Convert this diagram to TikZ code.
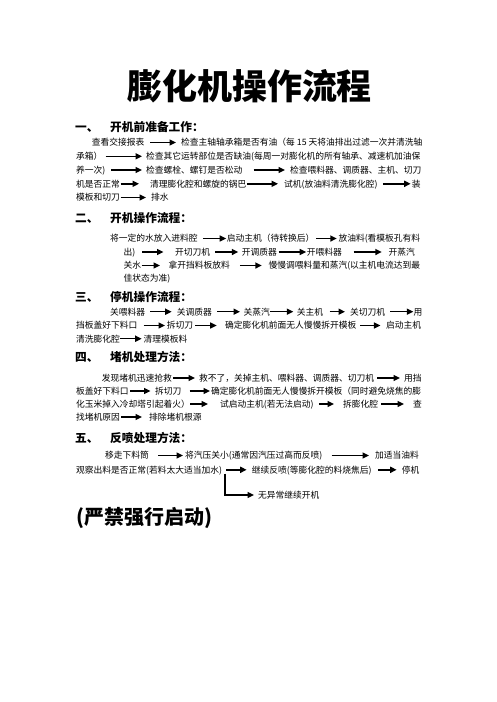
\documentclass[tikz,border=0pt]{standalone}
\usepackage{fontspec}
\usetikzlibrary{arrows.meta}
\newfontfamily\cjk{Noto Sans CJK SC}
\newcommand\fBody{\cjk\fontsize{8.75pt}{10pt}\selectfont}
\newcommand\fHead{\cjk\bfseries\fontsize{11.7pt}{14pt}\selectfont}
\newcommand\fTitle{\cjk\bfseries\fontsize{35pt}{40pt}\selectfont}
\newcommand\fBig{\cjk\bfseries\fontsize{20pt}{24pt}\selectfont}
\newcommand\arw[4]{\draw[arr] ([xshift=#3pt]#1.east) -- ([xshift=-#4pt]#2.west);}
\tikzset{
  txt/.style={anchor=west, inner sep=0pt, font=\fBody, text height=7.7pt, text depth=1.05pt},
  hd/.style={anchor=west, inner sep=0pt, font=\fHead, text height=10.3pt, text depth=1.4pt},
  arr/.style={line width=1.5pt, -{Triangle[length=6.5pt,width=6pt]}},
}
\begin{document}
\begin{tikzpicture}[x=1pt,y=-1pt]
\useasboundingbox[fill=white] (0,0) rectangle (496,702);
% title
\node[inner sep=0pt, font=\fTitle] (title) at (249.5,86) {膨化机操作流程};
% ---------- section 1
\node[hd] (h1n) at (75,127) {一、};
\node[hd] (h1) at (110,127) {开机前准备工作：};
\node[txt] (a1) at (91.7,142.5) {查看交接报表};
\node[txt] (a2) at (181,142.5) {检查主轴轴承箱是否有油（每 15 天将油排出过滤一次并清洗轴};
\arw{a1}{a2}{5.5}{5}
\node[txt] (b1) at (76,156.3) {承箱）};
\node[txt] (b2) at (146,156.3) {检查其它运转部位是否缺油(每周一对膨化机的所有轴承、减速机加油保};
\arw{b1}{b2}{3}{4}
\node[txt] (c1) at (76,170) {养一次)};
\node[txt] (c2) at (146,170) {检查螺栓、螺钉是否松动};
\node[txt] (c3) at (290,170) {检查喂料器、调质器、主机、切刀};
\arw{c1}{c2}{5.5}{4}
\arw{c2}{c3}{11}{5}
\node[txt] (d1) at (76,183.8) {机是否正常};
\node[txt] (d2) at (150,183.8) {清理膨化腔和螺旋的锅巴};
\node[txt] (d3) at (284,183.8) {试机(放油料清洗膨化腔)};
\node[txt] (d4) at (411.7,183.8) {装};
\arw{d1}{d2}{0.5}{11}
\arw{d2}{d3}{0.5}{6}
\arw{d3}{d4}{5}{1}
\node[txt] (e1) at (76,197.5) {模板和切刀};
\node[txt] (e2) at (151,197.5) {排水};
\arw{e1}{e2}{0.5}{5}
% ---------- section 2
\node[hd] (h2n) at (75,218.5) {二、};
\node[hd] (h2) at (110,218.5) {开机操作流程：};
\node[txt] (f1) at (110,238.5) {将一定的水放入进料腔};
\node[txt] (f2) at (226.7,238.5) {启动主机（待转换后）};
\node[txt] (f3) at (338.3,238.5) {放油料(看模板孔有料};
\arw{f1}{f2}{5}{0.5}
\arw{f2}{f3}{1.5}{1.5}
\node[txt] (g1) at (123.3,252) {出)};
\node[txt] (g2) at (175,252) {开切刀机};
\node[txt] (g3) at (241.7,252) {开调质器};
\node[txt] (g4) at (306.7,252) {开喂料器};
\node[txt] (g5) at (388.3,252) {开蒸汽};
\arw{g1}{g2}{7}{11.5}
\arw{g2}{g3}{5}{3.4}
\arw{g3}{g4}{1.6}{0.5}
\arw{g4}{g5}{11.5}{6.5}
\node[txt] (k1) at (123.3,265.5) {关水};
\node[txt] (k2) at (168.3,265.5) {拿开挡料板放料};
\node[txt] (k3) at (268.3,265.5) {慢慢调喂料量和蒸汽(以主机电流达到最};
\arw{k1}{k2}{0.3}{8.3}
\arw{k2}{k3}{10}{6.5}
\node[txt] (l1) at (123.3,278.5) {佳状态为准)};
% ---------- section 3
\node[hd] (h3n) at (75,297) {三、};
\node[hd] (h3) at (110,297) {停机操作流程：};
\node[txt] (j1) at (110,311.7) {关喂料器};
\node[txt] (j2) at (176.7,311.7) {关调质器};
\node[txt] (j3) at (243.3,311.7) {关蒸汽};
\node[txt] (j4) at (296.7,311.7) {关主机};
\node[txt] (j5) at (350,311.7) {关切刀机};
\node[txt] (j6) at (413.3,311.7) {用};
\arw{j1}{j2}{5}{5}
\arw{j2}{j3}{5}{3.3}
\arw{j3}{j4}{0}{3.4}
\arw{j4}{j5}{6.3}{5}
\arw{j5}{j6}{5}{0}
\node[txt] (m1) at (76,325.5) {挡板盖好下料口};
\node[txt] (m2) at (166.7,325.5) {拆切刀};
\node[txt] (m3) at (225,325.5) {确定膨化机前面无人慢慢拆开模板};
\node[txt] (m4) at (386,325.5) {启动主机};
\arw{m1}{m2}{6}{1.7}
\arw{m2}{m3}{2}{8.3}
\arw{m3}{m4}{3.7}{5.6}
\node[txt] (n1) at (76,338.7) {清洗膨化腔};
\node[txt] (n2) at (143.3,338.7) {清理模板料};
\arw{n1}{n2}{0}{1.6}
% ---------- section 4
\node[hd] (h4n) at (75,357.5) {四、};
\node[hd] (h4) at (110,357.5) {堵机处理方法：};
\node[txt] (p1) at (101.7,378) {发现堵机迅速抢救};
\node[txt] (p2) at (199,378) {救不了，关掉主机、喂料器、调质器、切刀机};
\node[txt] (p3) at (404,378) {用挡};
\arw{p1}{p2}{1}{4}
\arw{p2}{p3}{3}{4}
\node[txt] (q1) at (76,391) {板盖好下料口};
\node[txt] (q2) at (155,391) {拆切刀};
\node[txt] (q3) at (211,391) {确定膨化机前面无人慢慢拆开模板（同时避免烧焦的膨};
\arw{q1}{q2}{1.5}{4.5}
\arw{q2}{q3}{8}{1}
\node[txt] (r1) at (76,404) {化玉米掉入冷却塔引起着火）};
\node[txt] (r2) at (220,404) {试启动主机(若无法启动)};
\node[txt] (r3) at (343,404) {拆膨化腔};
\node[txt] (r4) at (413,404) {查};
\arw{r1}{r2}{0}{12}
\arw{r2}{r3}{5}{9}
\arw{r3}{r4}{3}{9}
\node[txt] (s1) at (76,417) {找堵机原因};
\node[txt] (s2) at (149,417) {排除堵机根源};
\arw{s1}{s2}{1}{7}
% ---------- section 5
\node[hd] (h5n) at (75,438.5) {五、};
\node[hd] (h5) at (110,438.5) {反喷处理方法：};
\node[txt] (u1) at (105,455.5) {移走下料筒};
\node[txt] (u2) at (185,455.5) {将汽压关小(通常因汽压过高而反喷)};
\node[txt] (u3) at (375,455.5) {加适当油料};
\arw{u1}{u2}{9}{2}
\arw{u2}{u3}{9}{6}
\node[txt] (v1) at (76,469.8) {观察出料是否正常(若料太大适当加水)};
\node[txt] (v2) at (251.7,469.8) {继续反喷(等膨化腔的料烧焦后)};
\node[txt] (v3) at (401.7,469.8) {停机};
\arw{v1}{v2}{4}{5}
\arw{v2}{v3}{6}{5}
\node[txt] (w1) at (258,495) {无异常继续开机};
\coordinate (br) at (225,473.5);
\draw[arr] (br) |- ([xshift=-4pt]w1.west);
\node[anchor=west, inner sep=0pt, font=\fBig] (big) at (76,518) {(严禁强行启动)};
\end{tikzpicture}
\end{document}
